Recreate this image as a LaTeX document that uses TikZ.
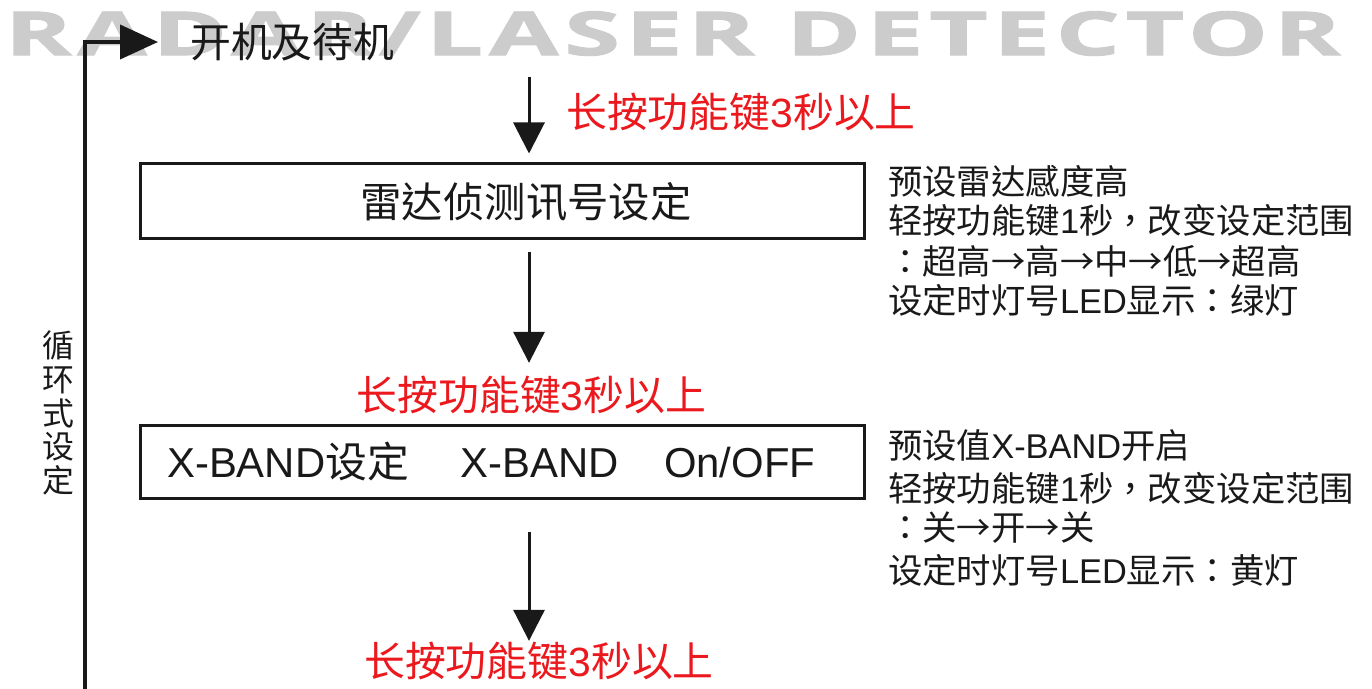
\documentclass[tikz,border=0pt]{standalone}
\usepackage{graphicx}
\usepackage{fontspec}
\setmainfont{Noto Sans CJK TC}
\newfontfamily\latn{Liberation Sans}
\newfontfamily\hdrfont[LetterSpace=6,FakeBold=1.5]{Open Sans}
\usetikzlibrary{arrows.meta}
\definecolor{redtxt}{RGB}{235,25,30}
\definecolor{hdrgray}{RGB}{204,204,204}
\definecolor{ink}{RGB}{25,25,25}
\begin{document}
\begin{tikzpicture}[x=1bp,y=-1bp,
 txt/.style={inner sep=0pt, text=ink},
 redlbl/.style={inner sep=0pt, text=redtxt, font=\fontsize{41}{41}\selectfont},
 sidetxt/.style={inner sep=0pt, anchor=west, text=ink, font=\fontsize{34.5}{34.5}\selectfont},
 boxnode/.style={draw=ink, line width=3bp, minimum width=723bp, inner sep=0pt},
 flow/.style={draw=ink, line width=3bp, -{Triangle[length=31bp,width=31bp]}},
 loopline/.style={draw=ink, line width=4bp, -{Triangle[length=38bp,width=34bp]}}]
\useasboundingbox (0,0) rectangle (1372,688);
\fill[white] (0,0) rectangle (1372,688);
% header
\node[anchor=south west, inner sep=0pt, text=hdrgray] (hdr) at (5,56)
  {\resizebox{1335bp}{44bp}{\hdrfont\bfseries RADAR/LASER DETECTOR}};
% start
\node[txt, anchor=west, font=\fontsize{41}{41}\selectfont] (start) at (190,42) {开机及待机};
\coordinate (lb) at (85,692);
\draw[loopline, shorten >=32bp] (lb) |- (start.west);
% vertical label
\node[txt, font=\fontsize{32}{34}\selectfont, align=center] (cyc) at (58,413) {循\\环\\式\\设\\定};
% box 1
\node[boxnode, minimum height=75bp] (box1) at (502.5,200.5) {};
\node[txt, font=\fontsize{41.5}{41.5}\selectfont] (t1) at (526,202) {雷达侦测讯号设定};
% red labels
\node[redlbl] (red1) at (741,112) {长按功能键{\latn 3}秒以上};
\node[redlbl] (red2) at (531.5,395) {长按功能键{\latn 3}秒以上};
\node[redlbl] (red3) at (539,661) {长按功能键{\latn 3}秒以上};
% box 2
\node[boxnode, minimum height=73bp] (box2) at (502.5,461.5) {};
\node[txt, anchor=west, font=\fontsize{42}{42}\selectfont] (t2) at (167,462)
  {{\latn X-BAND}设定\hspace{52bp}{\latn X-BAND}\hspace{45bp}{\latn On/OFF}};
% arrows
\coordinate (a1) at (529,77);
\draw[flow, shorten >=8bp] (a1) -- (a1 |- box1.north);
\draw[flow, shorten <=12bp, shorten >=13bp] ([xshift=26.5bp]box1.south) -- ([xshift=26.5bp]box1.south |- red2.north);
\draw[flow, shorten <=32bp, shorten >=1bp] ([xshift=26.5bp]box2.south) -- ([xshift=26.5bp]box2.south |- red3.north);
% side notes 1
\node[sidetxt] (s11) at (888,181) {预设雷达感度高};
\node[sidetxt] (s12) at (888,220) {轻按功能键{\latn 1}秒，改变设定范围};
\node[sidetxt] (s13) at (888,261) {：超高→高→中→低→超高};
\node[sidetxt] (s14) at (888,300) {设定时灯号{\latn LED}显示：绿灯};
% side notes 2
\node[sidetxt] (s21) at (888,445) {预设值{\latn X-BAND}开启};
\node[sidetxt] (s22) at (888,488) {轻按功能键{\latn 1}秒，改变设定范围};
\node[sidetxt] (s23) at (888,528) {：关→开→关};
\node[sidetxt] (s24) at (888,570) {设定时灯号{\latn LED}显示：黄灯};
\end{tikzpicture}
\end{document}
